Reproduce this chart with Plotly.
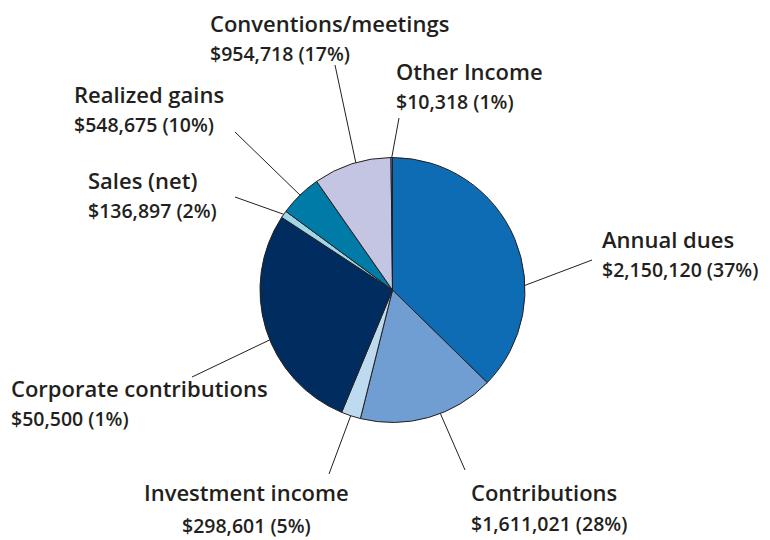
import math
import plotly.graph_objects as go

# ---- data ----
categories = ["Annual dues", "Contributions", "Investment income",
              "Corporate contributions", "Sales (net)", "Realized gains",
              "Conventions/meetings", "Other Income"]
label_amounts = [2150120, 1611021, 298601, 50500, 136897, 548675, 954718, 10318]
label_pcts = [37, 28, 5, 1, 2, 10, 17, 1]
# wedge sizes as they are drawn in the picture (clockwise from 12 o'clock)
drawn_slice_values = [2150120, 954718, 136897, 1611021, 50500, 298601, 548675, 10318]

# ---- styles / layout ----
slice_colors = ["#0e6cb4", "#709dd2", "#bedaf0", "#002c60",
                "#a0d7e6", "#007ba8", "#c4c5e3", "#4d8fcf"]
OFF = 8                                   # page body margin of the browser
W, H = 770 - OFF, 540 - OFF
CX, CY, R = 392.5, 290.0, 132.5          # pie centre / radius in screen pixels
TXT = "#231f20"
FONT = "Open Sans"
FS_NAME, FS_AMT = 22, 19.5

# label layout: (x px, line1 y px, line2 y px or None for a stacked label, anchor),
#               leader-line outer end, fraction within the wedge where the line meets it
label_layout = {
    "Annual dues":             ((601, 254, None, "left"),  (592, 260), 0.655),
    "Contributions":           ((470, 492, 523, "left"),   (465, 470), 0.41),
    "Investment income":       ((246.5, 492, 525, "center"), (329, 474), 0.51),
    "Corporate contributions": ((10, 402, None, "left"),   (192, 377), 0.45),
    "Sales (net)":             ((87, 194, None, "left"),   (235, 197), 0.5),
    "Realized gains":          ((73, 108, None, "left"),   (235, 132), 0.5),
    "Conventions/meetings":    ((209, 37.5, None, "left"), (335, 65), 0.55),
    "Other Income":            ((395, 85, None, "left"),   (399, 118), 0.5),
}

def px(x):
    return (x - OFF) / W

def py(y):
    return 1 - (y - OFF) / H

fig = go.Figure(go.Pie(
    labels=categories,
    values=drawn_slice_values,
    sort=False,
    direction="clockwise",
    rotation=0,
    textinfo="none",
    hoverinfo="label",
    marker=dict(colors=slice_colors, line=dict(color=TXT, width=1)),
    domain=dict(x=[px(CX - R), px(CX + R)], y=[py(CY + R), py(CY - R)]),
    showlegend=False,
))

total = sum(drawn_slice_values)
cum = 0.0
shapes, annotations = [], []
for name, val in zip(categories, drawn_slice_values):
    start = cum / total * 360
    cum += val
    end = cum / total * 360
    (tx, y1, y2, anchor), (ox, oy), frac = label_layout[name]
    ang = math.radians(start + frac * (end - start))
    ix = CX + R * math.sin(ang)
    iy = CY - R * math.cos(ang)
    shapes.append(dict(type="line", xref="paper", yref="paper",
                       x0=px(ix), y0=py(iy), x1=px(ox), y1=py(oy),
                       line=dict(color=TXT, width=1)))
    i = categories.index(name)
    amt = f"${label_amounts[i]:,} ({label_pcts[i]}%)"
    common = dict(xref="paper", yref="paper", xanchor=anchor, yanchor="middle",
                  showarrow=False, align=anchor, borderpad=0)
    if y2 is None:
        annotations.append(dict(
            text=f"{name}<br><span style='font-size:{FS_AMT}px'>{amt}</span>",
            x=px(tx), y=py(y1),
            font=dict(family=FONT, size=FS_NAME, color=TXT, weight=600), **common))
    else:
        for txt, yy, fs in ((name, y1, FS_NAME), (amt, y2, FS_AMT)):
            annotations.append(dict(text=txt, x=px(tx), y=py(yy),
                                    font=dict(family=FONT, size=fs, color=TXT, weight=600),
                                    **common))

fig.update_layout(
    width=W, height=H,
    margin=dict(l=0, r=0, t=0, b=0),
    paper_bgcolor="white", plot_bgcolor="white",
    shapes=shapes, annotations=annotations,
)
fig.write_html("out.html")
